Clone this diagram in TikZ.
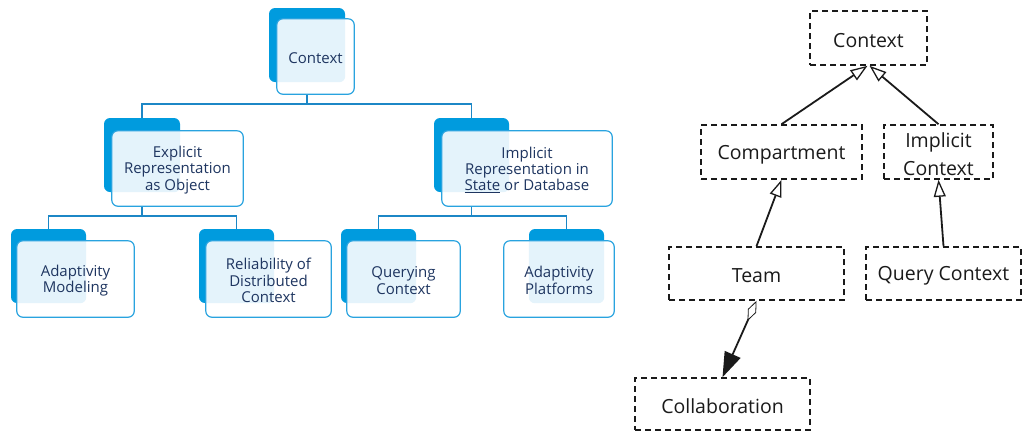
\documentclass[tikz,border=0pt]{standalone}
\usepackage{fontspec}
\setmainfont{Open Sans}
\usetikzlibrary{arrows.meta,fit,backgrounds}
\definecolor{dblue}{HTML}{009BDE}
\definecolor{oblue}{HTML}{29A3DF}
\definecolor{lblue}{HTML}{E4F3FB}
\definecolor{cblue}{HTML}{1C87C6}
\definecolor{navy}{HTML}{1E3560}
\definecolor{ink}{HTML}{1A1A1A}
\tikzset{
 backbox/.style={fill=dblue, rounded corners=6pt, inner sep=0pt},
 frontbox/.style={fill=white, rounded corners=6pt, inner sep=0pt},
 tlabel/.style={text=navy, align=center, font=\fontsize{15}{16.3}\selectfont, yshift=-1.5pt},
 conn/.style={draw=cblue, line width=1.3pt},
 umlbox/.style={draw=ink, line width=1.6pt, dash pattern=on 6pt off 4pt, inner sep=0pt},
 umltext/.style={text=ink, font=\fontsize{19.5}{28}\selectfont, align=center, inner sep=0pt, yshift=-2.5pt},
 gen/.style={draw=ink, line width=1.8pt, -{Triangle[open, length=17pt, width=12pt, line width=1.3pt, fill=white]}},
 agg/.style={draw=ink, line width=1.8pt, {Diamond[open, length=22pt, width=9pt, line width=0.8pt, fill=white]}-{Triangle[length=25pt, width=17pt]}},
}
\newcommand\tbox[6]{%
 \node[backbox, fit={#2 #3}] (#1b) {};
 \node[frontbox, fit={#4 #5}] (#1f) {};
 \begin{scope}
  \clip[rounded corners=6pt] (#1f.south west) rectangle (#1f.north east);
  \fill[lblue, rounded corners=6pt] (#1b.south west) rectangle (#1b.north east);
 \end{scope}
 \draw[oblue, line width=1.2pt, rounded corners=6pt] (#1f.south west) rectangle (#1f.north east);
 \node[tlabel] (#1t) at (#1f.center) {#6};
}
\begin{document}
\begin{tikzpicture}[x=1pt,y=-1pt]
\useasboundingbox (0,0) rectangle (1024,432);
% left tree
\tbox{ctx}{(269,8)}{(345,82)}{(277,19)}{(354,94)}{Context}
\tbox{exp}{(104,118)}{(180,192)}{(112,131)}{(243,206)}{Explicit\\Representation\\as Object}
\tbox{imp}{(434,118)}{(509,192)}{(442,131)}{(612,206)}{Implicit\\Representation in\\\underline{State} or Database}
\tbox{am}{(11,229)}{(86,303)}{(17,241)}{(134,317)}{Adaptivity\\Modeling}
\tbox{rel}{(199,229)}{(274,303)}{(206,241)}{(331,317)}{Reliability of\\Distributed\\Context}
\tbox{qry}{(341,229)}{(416,303)}{(347,241)}{(460,317)}{Querying\\Context}
\tbox{ap}{(529,229)}{(604,303)}{(504,241)}{(614,317)}{Adaptivity\\Platforms}
\coordinate (bus1) at (0,104);
\coordinate (bus2) at (0,216);
\begin{scope}[on background layer]
 \draw[conn] (ctxb.center) -- (ctxb.center |- bus1) -| (expb.center);
 \draw[conn] (ctxb.center |- bus1) -| (impb.center);
 \draw[conn] (expb.center) -- (expb.center |- bus2) -| (amb.center);
 \draw[conn] (expb.center |- bus2) -| (relb.center);
 \draw[conn] (impb.center) -- (impb.center |- bus2) -| (qryb.center);
 \draw[conn] (impb.center |- bus2) -| (apb.center);
\end{scope}
% right UML
\node[umlbox, minimum width=117pt, minimum height=54pt] (uctx) at (868.5,38) {};
\node[umlbox, minimum width=161pt, minimum height=54pt] (ucomp) at (781.5,152) {};
\node[umlbox, minimum width=109pt, minimum height=54pt] (uimp) at (938.5,152) {};
\node[umlbox, minimum width=175pt, minimum height=53pt] (uteam) at (756.5,273.5) {};
\node[umlbox, minimum width=155pt, minimum height=53pt] (uqry) at (943.5,273.5) {};
\node[umlbox, minimum width=175pt, minimum height=52pt] (ucol) at (722.5,404) {};
\node[umltext] (uctxt) at (uctx.center) {Context};
\node[umltext] (ucompt) at (ucomp.center) {Compartment};
\node[umltext] (uimpt) at (uimp.center) {Implicit\\Context};
\node[umltext] (uteamt) at (uteam.center) {Team};
\node[umltext] (uqryt) at (uqry.center) {Query Context};
\node[umltext] (ucolt) at (ucol.center) {Collaboration};
\draw[gen] (ucomp.north) -- ([xshift=-1pt]uctx.south);
\draw[gen] (uimp.north) -- ([xshift=1pt]uctx.south);
\draw[gen] (uteam.north) -- (ucomp.south);
\draw[gen] (uqry.north) -- (uimp.south);
\draw[agg] (uteam.south) -- (ucol.north);
\end{tikzpicture}
\end{document}
